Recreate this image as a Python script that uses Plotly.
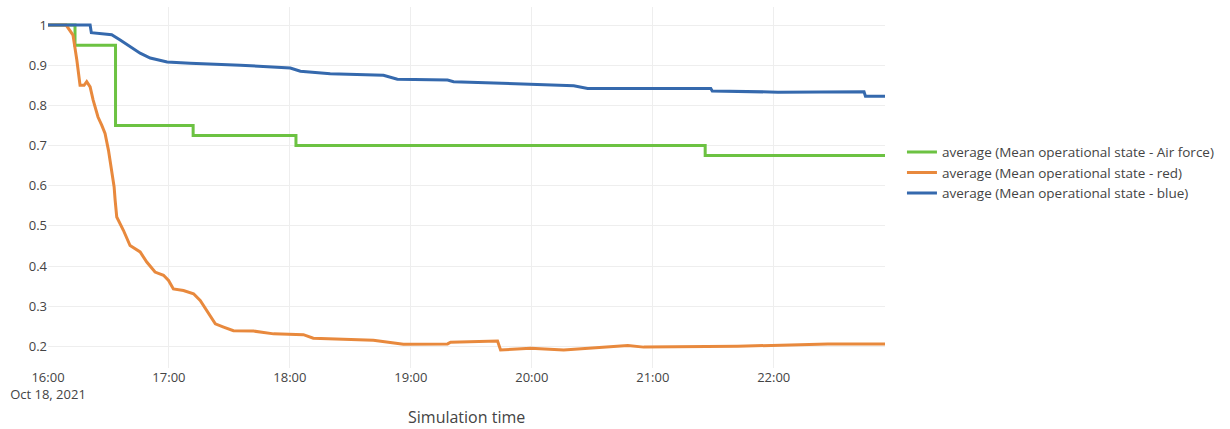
import plotly.graph_objects as go

DATE = "2021-10-18 "

# Air force (step series)
green_times = ["16:00:00", "16:13:24", "16:33:30", "17:12:00", "18:03:00", "21:26:00", "22:55:12"]
green_values = [1.0, 0.95, 0.75, 0.725, 0.70, 0.675, 0.675]

# red
red_times = ["16:00:00", "16:09:00", "16:12:24", "16:13:24", "16:14:18", "16:15:54", "16:17:54",
             "16:19:12", "16:20:54", "16:22:24", "16:24:48", "16:26:42", "16:28:18", "16:30:00",
             "16:31:36", "16:32:48", "16:33:18", "16:34:06", "16:37:24", "16:40:42", "16:45:42",
             "16:49:00", "16:53:06", "16:57:18", "16:59:48", "17:02:12", "17:07:12", "17:12:12",
             "17:15:30", "17:18:48", "17:23:00", "17:27:06", "17:32:00", "17:42:00", "17:51:54",
             "18:06:42", "18:11:36", "18:41:24", "18:56:18", "19:18:12", "19:19:42", "19:43:00",
             "19:44:30", "19:59:24", "20:15:48", "20:47:36", "20:55:30", "21:42:12", "22:26:54",
             "22:55:12"]
red_values = [1.0, 1.0, 0.975, 0.946, 0.913, 0.85, 0.85,
              0.859, 0.846, 0.813, 0.771, 0.75, 0.73, 0.688,
              0.638, 0.597, 0.564, 0.522, 0.489, 0.451, 0.435,
              0.41, 0.385, 0.377, 0.364, 0.343, 0.339, 0.331,
              0.314, 0.289, 0.256, 0.248, 0.239, 0.238, 0.231,
              0.229, 0.22, 0.215, 0.205, 0.206, 0.21, 0.213,
              0.191, 0.195, 0.191, 0.202, 0.198, 0.2, 0.206,
              0.206]

# blue
blue_times = ["16:00:00", "16:20:54", "16:21:30", "16:31:36", "16:35:48", "16:40:42", "16:45:42",
              "16:50:42", "16:59:06", "17:10:30", "17:35:24", "18:00:12", "18:05:12", "18:20:00",
              "18:46:24", "18:53:18", "19:18:12", "19:21:12", "19:59:24", "20:20:48", "20:27:42",
              "21:28:48", "21:29:30", "22:02:06", "22:44:48", "22:45:30", "22:55:12"]
blue_values = [1.0, 1.0, 0.981, 0.976, 0.963, 0.946, 0.93,
               0.918, 0.908, 0.905, 0.90, 0.893, 0.885, 0.879,
               0.875, 0.865, 0.863, 0.859, 0.852, 0.849, 0.842,
               0.842, 0.836, 0.833, 0.834, 0.823, 0.823]

names = ["average (Mean operational state - Air force)",
         "average (Mean operational state - red)",
         "average (Mean operational state - blue)"]
colors = ["#6cc242", "#e8893d", "#3569ad"]

def ts(lst):
    return [DATE + t for t in lst]

fig = go.Figure()
fig.add_trace(go.Scatter(x=ts(green_times), y=green_values, mode="lines", name=names[0],
                         line=dict(color=colors[0], width=3, shape="hv")))
fig.add_trace(go.Scatter(x=ts(red_times), y=red_values, mode="lines", name=names[1],
                         line=dict(color=colors[1], width=3)))
fig.add_trace(go.Scatter(x=ts(blue_times), y=blue_values, mode="lines", name=names[2],
                         line=dict(color=colors[2], width=3)))

fig.update_layout(
    width=1230, height=429,
    margin=dict(l=48, r=345, t=7, b=61),
    paper_bgcolor="white", plot_bgcolor="white",
    font=dict(family="Open Sans", size=13, color="#444"),
    legend=dict(xref="container", yref="container", x=0.7333, y=0.5975,
                xanchor="left", yanchor="middle", font=dict(size=13.5)),
    showlegend=True,
    annotations=[dict(text="Simulation time", xref="paper", yref="paper", x=0.5, y=-0.136,
                      xanchor="center", yanchor="middle", showarrow=False, borderpad=0,
                      font=dict(size=16, color="#444"))],
)
fig.update_xaxes(range=[DATE + "16:00:00", DATE + "22:55:12"], showgrid=True, gridcolor="#eeeeee",
                 zeroline=False, showline=False, ticks="", tickfont=dict(size=13))
fig.update_yaxes(range=[0.146, 1.045], dtick=0.1, tick0=0, showgrid=True, gridcolor="#eeeeee",
                 zeroline=False, showline=False, ticks="", tickfont=dict(size=13))

fig.write_html("out.html", post_script="document.body.style.margin='0';",
               config={"displayModeBar": False})
